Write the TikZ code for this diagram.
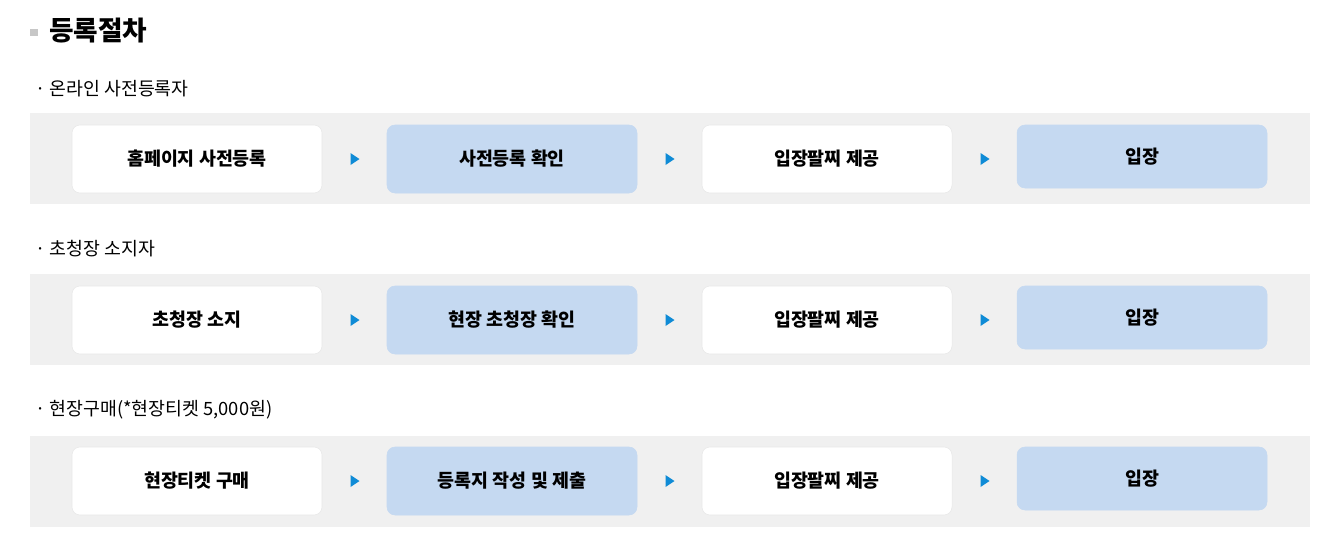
\documentclass[tikz,border=0pt]{standalone}
\usepackage{fontspec}
\newfontfamily\kr{Noto Sans CJK KR}
\usetikzlibrary{calc}
\definecolor{BandClr}{rgb}{0.941,0.941,0.941}
\definecolor{BoxClr}{rgb}{0.773,0.851,0.945}
\definecolor{EdgeClr}{rgb}{0.910,0.910,0.910}
\definecolor{TipClr}{rgb}{0.059,0.545,0.839}
\definecolor{MarkClr}{rgb}{0.780,0.780,0.780}

\begin{document}
\begin{tikzpicture}[x=0.75pt,y=-0.75pt,
  band/.style={fill=BandClr,draw=none},
  whitebox/.style={draw=EdgeClr,fill=white,rounded corners=6pt,minimum width=187.5pt,minimum height=51pt,inner sep=0pt,font=\kr\bfseries\fontsize{13.8}{16}\selectfont},
  bluebox/.style={whitebox,fill=BoxClr,draw=BoxClr},
  endbox/.style={bluebox,minimum height=47.25pt},
  tip/.style={fill=TipClr,draw=none},
  caption/.style={anchor=west,inner sep=0pt,font=\kr\fontsize{13.75}{16}\selectfont}]
\useasboundingbox (0,0) rectangle (1333,554);

\fill[MarkClr] (30,28.5) rectangle (37.5,36);
\node[anchor=west,inner sep=0pt,font=\kr\bfseries\fontsize{20}{24}\selectfont] (title) at (49,31) {등록절차};

% row 1
\node[caption] (cap1) at (35,89) {· 온라인 사전등록자};
\fill[band] (30,113) rectangle (1310,204);
\node[whitebox] (a1) at (197,159) {홈페이지 사전등록};
\node[bluebox] (b1) at (512,159) {사전등록 확인};
\node[whitebox] (c1) at (827,159) {입장팔찌 제공};
\node[endbox] (d1) at (1142,156.5) {입장};

% row 2
\node[caption] (cap2) at (35,249) {· 초청장 소지자};
\fill[band] (30,274) rectangle (1310,365);
\node[whitebox] (a2) at (197,320) {초청장 소지};
\node[bluebox] (b2) at (512,320) {현장 초청장 확인};
\node[whitebox] (c2) at (827,320) {입장팔찌 제공};
\node[endbox] (d2) at (1142,317.5) {입장};

% row 3
\node[caption] (cap3) at (35,410) {· 현장구매(*현장티켓 5,000원)};
\fill[band] (30,436) rectangle (1310,527);
\node[whitebox] (a3) at (197,481) {현장티켓 구매};
\node[bluebox] (b3) at (512,481) {등록지 작성 및 제출};
\node[whitebox] (c3) at (827,481) {입장팔찌 제공};
\node[endbox] (d3) at (1142,478.5) {입장};

\foreach \r/\y in {1/159,2/320,3/481}{
  \foreach \xx in {355,670,985}{
    \fill[tip] (\xx-4.5,\y-6) -- (\xx+4.5,\y) -- (\xx-4.5,\y+6) -- cycle;
  }
}

\end{tikzpicture}
\end{document}
